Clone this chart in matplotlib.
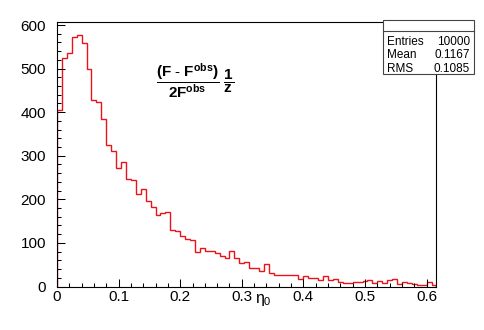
import numpy as np
import matplotlib
matplotlib.use("Agg")
import matplotlib.pyplot as plt
from matplotlib.patches import Rectangle
from matplotlib.lines import Line2D
from matplotlib.ticker import MultipleLocator

plt.rcParams['font.family'] = ['Liberation Sans', 'DejaVu Sans']
plt.rcParams['mathtext.fontset'] = 'custom'
plt.rcParams['mathtext.rm'] = 'Liberation Sans'
plt.rcParams['mathtext.it'] = 'Liberation Sans'
plt.rcParams['mathtext.bf'] = 'Liberation Sans:bold'

# histogram: 77 bins of width 0.008 from 0 to 0.616
bin_lo = 0.0
bin_width = 0.008
counts = [405, 524, 535, 572, 577, 559, 499, 429, 424, 385,
          324, 311, 272, 285, 247, 245, 212, 223, 197, 182,
          164, 168, 171, 129, 127, 115, 110, 106, 80, 89,
          82, 82, 77, 69, 66, 82, 66, 53, 56, 42,
          43, 35, 51, 32, 27, 26, 26, 26, 26, 17,
          25, 20, 19, 15, 23, 14, 18, 11, 9, 9,
          11, 11, 12, 15, 7, 13, 9, 15, 17, 6,
          11, 9, 5, 3, 3, 10, 3]

stat_names = ['Entries', 'Mean', 'RMS']
stat_values = ['10000', '0.1167', '0.1085']

x_ticks = [0, 0.1, 0.2, 0.3, 0.4, 0.5, 0.6]
x_ticklabels = ['0', '0.1', '0.2', '0.3', '0.4', '0.5', '0.6']
y_ticks = [0, 100, 200, 300, 400, 500, 600]

W, H = 485, 330
fig = plt.figure(figsize=(W / 100, H / 100), dpi=100)

def fx(px):
    return px / W

def fy(py):
    return 1 - py / H

left, right, top, bottom = 57, 436.5, 22, 286.5
ax = fig.add_axes([fx(left), fy(bottom), fx(right - left), (bottom - top) / H])

edges = bin_lo + bin_width * np.arange(len(counts) + 1)
ax.stairs(counts, edges, color='#e8141a', linewidth=1.0)

ax.set_xlim(edges[0], edges[-1])
ax.set_ylim(0, 607)
ax.set_xticks(x_ticks)
ax.set_xticklabels(x_ticklabels)
ax.set_yticks(y_ticks)
ax.xaxis.set_minor_locator(MultipleLocator(0.02))
ax.yaxis.set_minor_locator(MultipleLocator(20))
ax.tick_params(which='both', direction='in', top=False, right=False,
               width=0.75, labelsize=11)
ax.tick_params(which='major', length=6)
ax.tick_params(which='minor', length=3)
ax.tick_params(axis='x', pad=2.5)
ax.tick_params(axis='y', pad=8)
for s in ax.spines.values():
    s.set_linewidth(0.8)

fig.text(fx(263), fy(300), r'$\eta_0$', ha='center', va='center', fontsize=11.5)

fig.text(fx(195), fy(81),
         r'$\mathbf{\dfrac{(F\ \text{-}\ F^{obs})}{2F^{obs}}\ \dfrac{1}{z}}$',
         ha='center', va='center', fontsize=11)

# stats box
bx0, bx1, by0, by1 = 383, 474, 20, 74
fig.patches.append(Rectangle((fx(bx0), fy(by1)), fx(bx1 - bx0), (by1 - by0) / H,
                             transform=fig.transFigure, facecolor='white',
                             edgecolor='#444444', linewidth=0.8, zorder=5))
fig.lines.append(Line2D([fx(bx0), fx(bx1)], [fy(31), fy(31)],
                        transform=fig.transFigure, color='#444444',
                        linewidth=0.8, zorder=6))
for i, (name, val) in enumerate(zip(stat_names, stat_values)):
    yy = fy(42 + 13.5 * i)
    fig.text(fx(387), yy, name, ha='left', va='center', fontsize=8.5, zorder=7)
    fig.text(fx(470), yy, val, ha='right', va='center', fontsize=8.5, zorder=7)

fig.savefig('out.png', dpi=100)
